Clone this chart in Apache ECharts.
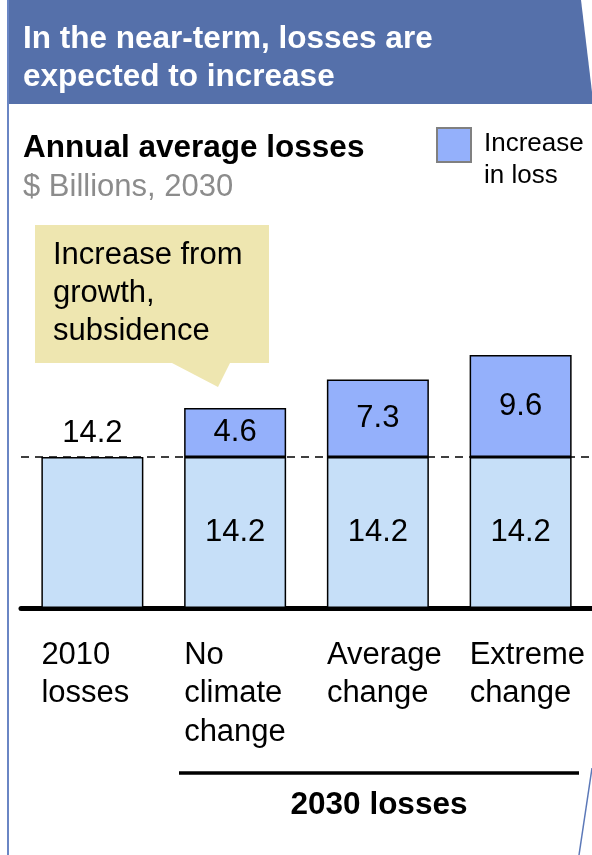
<!DOCTYPE html>
<html>
<head>
<meta charset="utf-8">
<style>
  html, body { margin: 0; padding: 0; background: #ffffff; }
  #chart { width: 592px; height: 855px; }
</style>
<script src="https://cdn.jsdelivr.net/npm/echarts@6/dist/echarts.min.js"></script>
</head>
<body>
<div id="chart"></div>
<script>
// Annual average flood losses, $ billions
const categories = ['2010\nlosses', 'No\nclimate\nchange', 'Average\nchange', 'Extreme\nchange'];
const baseLosses = [14.2, 14.2, 14.2, 14.2];
const increaseLosses = [null, 4.6, 7.3, 9.6];

const FONT = '"Liberation Sans", Arial, sans-serif';
const BASE_COLOR = '#c6dff8';
const INCREASE_COLOR = '#94b0fb';
const HEADER_COLOR = '#5570aa';
const FS = 31;
const FS_BOLD = 31.5;

const chart = echarts.init(document.getElementById('chart'), null, { renderer: 'canvas' });

const baseData = baseLosses.map((v, i) => ({
  value: v,
  label: i === 0
    ? { show: true, position: 'top', distance: 8 }
    : { show: true, position: 'inside' }
}));

chart.setOption({
  animation: false,
  backgroundColor: '#ffffff',
  textStyle: { fontFamily: FONT },
  title: [
    {
      text: 'In the near-term, losses are\nexpected to increase',
      left: 18, top: 15,
      textStyle: { color: '#ffffff', fontSize: FS_BOLD, fontWeight: 'bold', lineHeight: 38, fontFamily: FONT }
    },
    {
      text: 'Annual average losses',
      subtext: '$ Billions, 2030',
      left: 18, top: 124,
      itemGap: 1,
      textStyle: { color: '#000000', fontSize: FS_BOLD, fontWeight: 'bold', lineHeight: 38, fontFamily: FONT },
      subtextStyle: { color: '#8c8c8c', fontSize: FS, lineHeight: 38, fontFamily: FONT }
    }
  ],
  legend: {
    data: ['Increase in loss'],
    left: 431, top: 103,
    itemWidth: 34, itemHeight: 34,
    itemGap: 0,
    icon: 'rect',
    itemStyle: { borderColor: '#808080', borderWidth: 2 },
    // a spacer line keeps the two text lines level with the top of the swatch
    formatter: () => '{s| }\n{a|Increase}\n{a|in loss}',
    textStyle: {
      color: '#000000', padding: [0, 0, 0, 8], fontFamily: FONT,
      rich: {
        s: { fontSize: 10, lineHeight: 30 },
        a: { fontSize: 26, lineHeight: 32, color: '#000000', fontFamily: FONT }
      }
    },
    selectedMode: false
  },
  grid: { left: 21, right: 0, top: 289, bottom: 247, containLabel: false },
  xAxis: {
    type: 'category',
    data: categories,
    axisLine: { show: true, lineStyle: { color: '#000000', width: 5 } },
    axisTick: { show: false },
    axisLabel: {
      interval: 0,
      margin: 28,
      align: 'center',
      verticalAlign: 'top',
      formatter: (v) => v.split('\n').map(s => '{t|' + s + '}').join('\n'),
      rich: {
        t: { width: 102, fontSize: FS, lineHeight: 38.5, color: '#000000', align: 'left', fontFamily: FONT }
      }
    }
  },
  yAxis: {
    type: 'value',
    min: 0, max: 30,
    show: false,
    splitLine: { show: false }
  },
  series: [
    {
      name: 'Base',
      type: 'bar',
      stack: 'loss',
      barWidth: 102,
      data: baseData,
      itemStyle: { color: BASE_COLOR, borderColor: '#000000', borderWidth: 1.5 },
      label: { color: '#000000', fontSize: FS, fontFamily: FONT },
      markLine: {
        silent: true,
        symbol: 'none',
        label: { show: false },
        lineStyle: { color: '#000000', type: [8, 6], width: 1.5 },
        data: [{ yAxis: baseLosses[0] }],
        z: 10
      }
    },
    {
      name: 'Increase in loss',
      type: 'bar',
      stack: 'loss',
      barWidth: 102,
      data: increaseLosses,
      itemStyle: { color: INCREASE_COLOR, borderColor: '#000000', borderWidth: 1.5 },
      label: { show: true, position: 'inside', color: '#000000', fontSize: FS, fontFamily: FONT }
    }
  ],
  graphic: [
    // header band
    {
      type: 'polygon', z: -1,
      shape: { points: [[8, 0], [581, 0], [592, 92], [592, 104], [8, 104]] },
      style: { fill: HEADER_COLOR }
    },
    // panel border
    {
      type: 'line',
      shape: { x1: 8, y1: 0, x2: 8, y2: 855 },
      style: { stroke: '#6a86c4', lineWidth: 2 }
    },
    {
      type: 'line',
      shape: { x1: 592, y1: 768, x2: 579, y2: 855 },
      style: { stroke: '#5b78b8', lineWidth: 1.5 }
    },
    // callout
    {
      type: 'polygon',
      shape: { points: [[35, 225], [269, 225], [269, 363], [230, 363], [218, 387], [172, 363], [35, 363]] },
      style: { fill: '#eee6b0' }
    },
    {
      type: 'text',
      left: 53, top: 236,
      style: {
        text: 'Increase from\ngrowth,\nsubsidence',
        font: FS + 'px ' + FONT,
        lineHeight: 38,
        fill: '#000000'
      }
    },
    // 2030 bracket
    {
      type: 'line',
      shape: { x1: 179, y1: 773, x2: 579, y2: 773 },
      style: { stroke: '#000000', lineWidth: 3.5 }
    },
    {
      type: 'text',
      x: 379, y: 805,
      style: {
        text: '2030 losses',
        font: 'bold ' + FS_BOLD + 'px ' + FONT,
        fill: '#000000',
        align: 'center',
        verticalAlign: 'middle'
      }
    }
  ]
});
</script>
</body>
</html>
